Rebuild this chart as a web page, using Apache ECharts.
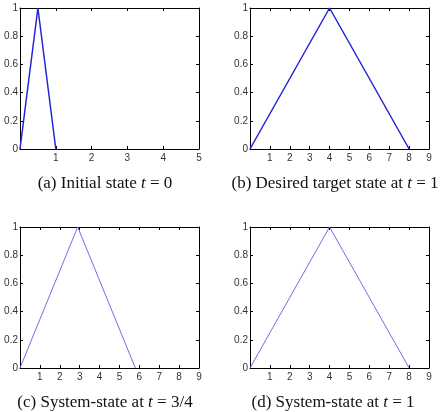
<!DOCTYPE html>
<html>
<head>
<meta charset="utf-8">
<script src="https://cdn.jsdelivr.net/npm/echarts@6/dist/echarts.min.js"></script>
<style>
  html, body { margin: 0; padding: 0; background: #fff; }
  #chart { width: 443px; height: 412px; }
</style>
</head>
<body>
<div id="chart"></div>
<script>
// panel data
const initialX = [0, 0.5, 1];
const initialY = [0, 1, 0];
const targetX = [0, 4, 8];
const targetY = [0, 1, 0];
const stateHalfX = [0, 2.9, 5.8];
const stateHalfY = [0, 1, 0];
const stateFullX = [0, 4, 8];
const stateFullY = [0, 1, 0];

const xMaxes = [5, 9, 9, 9];

const captions = [
  "(a) Initial state {i|t} {m|=} 0",
  "(b) Desired target state at {i|t} {m|=} 1",
  "(c) System-state at {i|t} {m|=} 3/4",
  "(d) System-state at {i|t} {m|=} 1",
];

const pairs = (xs, ys) => xs.map((x, i) => [x, ys[i]]);

const grids = [
  { left: 20, top: 8, width: 179, height: 141 },
  { left: 250, top: 8, width: 179, height: 141 },
  { left: 20, top: 227, width: 179, height: 141 },
  { left: 250, top: 227, width: 179, height: 141 },
];
const captionPos = [[105, 184], [335, 184], [105, 403], [333, 403]];

const tickFont = { fontFamily: "Liberation Sans", fontSize: 10, color: "#333" };

const xAxes = [];
const yAxes = [];
grids.forEach((g, i) => {
  const base = {
    gridIndex: i,
    type: "value",
    min: 0,
    max: xMaxes[i],
    interval: 1,
    splitLine: { show: false },
    axisLine: { show: true, onZero: false, lineStyle: { color: "#000", width: 1 } },
    axisTick: { show: true, inside: true, length: 3, lineStyle: { color: "#000" } },
  };
  xAxes.push(Object.assign({}, base, {
    position: "bottom",
    axisLabel: Object.assign({ margin: 4, formatter: (v) => (v === 0 ? "" : String(v)) }, tickFont),
  }));
  xAxes.push(Object.assign({}, base, { position: "top", axisLabel: { show: false } }));
  const ybase = {
    gridIndex: i,
    type: "value",
    min: 0,
    max: 1,
    interval: 0.2,
    splitLine: { show: false },
    axisLine: { show: true, onZero: false, lineStyle: { color: "#000", width: 1 } },
    axisTick: { show: true, inside: true, length: 3, lineStyle: { color: "#000" } },
  };
  yAxes.push(Object.assign({}, ybase, {
    position: "left",
    axisLabel: Object.assign({ margin: 2, formatter: (v) => String(Math.round(v * 10) / 10) }, tickFont),
  }));
  yAxes.push(Object.assign({}, ybase, { position: "right", axisLabel: { show: false } }));
});

const seriesData = [
  pairs(initialX, initialY),
  pairs(targetX, targetY),
  pairs(stateHalfX, stateHalfY),
  pairs(stateFullX, stateFullY),
];
const lineStyles = [
  { color: "#2424d8", width: 1.5 },
  { color: "#2424d8", width: 1.5 },
  { color: "#6f6fe6", width: 1 },
  { color: "#6f6fe6", width: 1 },
];

const series = seriesData.map((d, i) => ({
  type: "line",
  xAxisIndex: i * 2,
  yAxisIndex: i * 2,
  data: d,
  symbol: "none",
  lineStyle: lineStyles[i],
  animation: false,
}));

const capFont = { fontFamily: "Liberation Serif", fontSize: 17, fill: "#111" };
const graphic = captions.map((c, i) => ({
  type: "text",
  x: captionPos[i][0],
  y: captionPos[i][1],
  style: Object.assign({
    text: c,
    align: "center",
    verticalAlign: "middle",
    rich: {
      i: Object.assign({ fontStyle: "italic" }, capFont),
      m: Object.assign({}, capFont),
    },
  }, capFont),
}));

const chart = echarts.init(document.getElementById("chart"));
chart.setOption({
  animation: false,
  grid: grids,
  xAxis: xAxes,
  yAxis: yAxes,
  series: series,
  graphic: graphic,
});
</script>
</body>
</html>
